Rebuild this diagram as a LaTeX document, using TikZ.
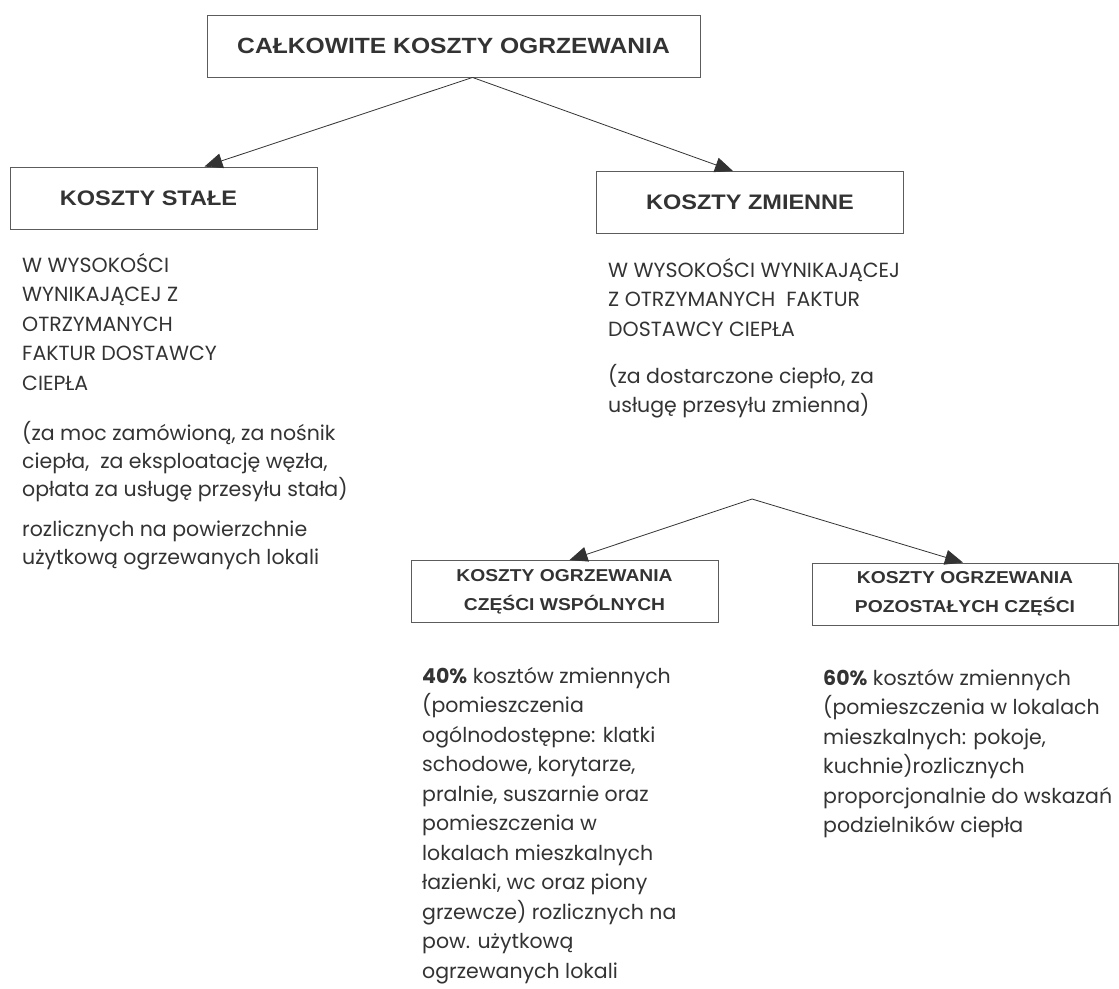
\documentclass[tikz,border=0pt]{standalone}
\usepackage{fontspec}
\setmainfont{Poppins}
\newfontfamily\headfont{Liberation Sans}[FakeStretch=1.12]
\usetikzlibrary{arrows.meta}
\definecolor{ink}{HTML}{333333}
\tikzset{
  box/.style={draw=ink!80, line width=0.9pt, text=ink, minimum width=307pt,
    minimum height=62pt, align=center, inner sep=0pt, font=\headfont\bfseries\fontsize{17.2}{29}\selectfont},
  txt/.style={anchor=base west, align=left, inner sep=0pt, text=ink,
    font=\fontsize{20.5}{29.5}\selectfont},
  link/.style={draw=ink, line width=0.8pt, -{Triangle[length=18pt,width=15pt]}}
}
\begin{document}
\begin{tikzpicture}[x=1pt,y=-1pt]
  \useasboundingbox (0,0) rectangle (1119,988);
  \node[box, minimum width=493pt, font=\headfont\bfseries\fontsize{22}{26}\selectfont] (total) at (453.5,46) {CAŁKOWITE KOSZTY OGRZEWANIA};
  \node[box, font=\headfont\bfseries\fontsize{21}{26}\selectfont] (stale) at (163.5,198) {KOSZTY STAŁE\hspace{30pt}};
  \node[box, font=\headfont\bfseries\fontsize{21}{26}\selectfont] (zmienne) at (750,202.5) {KOSZTY ZMIENNE};
  \node[box] (wspolne) at (564.5,591.5) {KOSZTY OGRZEWANIA\\CZĘŚCI WSPÓLNYCH};
  \node[box, minimum width=306pt] (pozostale) at (965,594) {KOSZTY OGRZEWANIA\\POZOSTAŁYCH CZĘŚCI};
  \coordinate (split) at (752,499);
  \node[txt] (staleText) at (22,390) {W WYSOKOŚCI\\WYNIKAJĄCEJ Z\\OTRZYMANYCH\\FAKTUR DOSTAWCY\\CIEPŁA};
  \node[txt, font=\fontsize{20.5}{28}\selectfont] (staleNote) at (22,496) {(za moc zamówioną, za nośnik\\ciepła,\ \ za eksploatację węzła,\\opłata za usługę przesyłu stała)};
  \node[txt, font=\fontsize{20.5}{28}\selectfont] (staleRozl) at (22,564) {rozlicznych na powierzchnie\\użytkową ogrzewanych lokali};
  \node[txt] (zmienneText) at (608,336) {W WYSOKOŚCI WYNIKAJĄCEJ\\Z OTRZYMANYCH\ \ FAKTUR\\DOSTAWCY CIEPŁA};
  \node[txt] (zmienneNote) at (608,412.5) {(za dostarczone ciepło, za\\usługę przesyłu zmienna)};
  \node[txt] (wspolneText) at (422,978) {\textbf{40\%} kosztów zmiennych\\(pomieszczenia\\ogólnodostępne: klatki\\schodowe, korytarze,\\pralnie, suszarnie oraz\\pomieszczenia w\\lokalach mieszkalnych\\łazienki, wc oraz piony\\grzewcze) rozlicznych na\\pow. użytkową\\ogrzewanych lokali};
  \node[txt] (pozostaleText) at (823,832.5) {\textbf{60\%} kosztów zmiennych\\(pomieszczenia w lokalach\\mieszkalnych: pokoje,\\kuchnie)rozlicznych\\proporcjonalnie do wskazań\\podzielników ciepła};
  \begin{scope}[link]
    \draw ([xshift=19pt]total.south) to ([xshift=41pt]stale.north);
    \draw ([xshift=19pt]total.south) to ([xshift=-17pt]zmienne.north);
    \draw (split) to ([xshift=5pt]wspolne.north);
    \draw (split) to ([xshift=-2pt]pozostale.north);
  \end{scope}
\end{tikzpicture}
\end{document}
